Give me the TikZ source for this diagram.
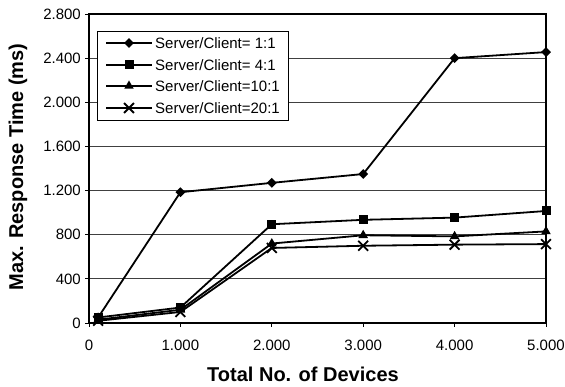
\documentclass[tikz,border=0pt]{standalone}
\usepackage{fontspec}
\setmainfont{Liberation Sans}
\usetikzlibrary{shapes.geometric,shapes.misc}
\begin{document}
\begin{tikzpicture}[x=1pt,y=-1pt,
  tick/.style={font=\fontsize{15}{18}\selectfont, inner sep=0pt},
  axtitle/.style={font=\fontsize{20}{24}\selectfont\bfseries, inner sep=0pt},
  grid line/.style={line width=0.8pt, black!75},
  series line/.style={line width=1.8pt, black, line join=round},
  mkdia/.style={diamond, fill=black, inner sep=0pt, minimum size=10pt},
  mksq/.style={rectangle, fill=black, inner sep=0pt, minimum size=9pt},
  mktri/.style={regular polygon, regular polygon sides=3, fill=black, inner sep=0pt, minimum size=11pt},
  mkx/.style={cross out, draw=black, line width=1.8pt, inner sep=0pt, minimum size=8pt},
  legtext/.style={font=\fontsize{15}{18}\selectfont, anchor=west, inner sep=0pt}]
\useasboundingbox (0,0) rectangle (565,387);
% grid
\foreach \g in {400,800,1200,1600,2000,2400}
  \draw[grid line] (89,{323-\g*0.110357}) -- (546,{323-\g*0.110357});
% ticks
\foreach \g in {0,400,800,1200,1600,2000,2400,2800}
  \draw[line width=0.8pt] (85,{323-\g*0.110357}) -- (89,{323-\g*0.110357});
\foreach \g in {0,1000,2000,3000,4000,5000}
  \draw[line width=0.8pt] ({89+\g*0.0914},323) -- ({89+\g*0.0914},327);
% frame
\draw[line width=2pt] (89,14) rectangle (546,323);
% y tick labels
\foreach \g/\t in {0/0,400/400,800/800,1200/1.200,1600/1.600,2000/2.000,2400/2.400,2800/2.800}
  \node[tick, anchor=east] (yl\g) at (81,{323-\g*0.110357}) {\t};
% x tick labels
\foreach \g/\t in {0/0,1000/1.000,2000/2.000,3000/3.000,4000/4.000,5000/5.000}
  \node[tick] (xl\g) at ({89+\g*0.0914},345) {\t};
% axis titles
\node[axtitle] (xt) at (303,374) {Total No. of Devices};
\node[axtitle, rotate=90] (yt) at (18,167) {Max. Response Time (ms)};
% series data
\foreach \s/\vals in {a/{50,1185,1270,1350,2400,2455},b/{50,140,895,935,955,1015},c/{30,120,720,795,785,830},d/{20,100,680,700,710,715}}{
  \foreach \v [count=\i] in \vals {
    \pgfmathsetmacro\xx{ifthenelse(\i==1,100,(\i-1)*1000)}
    \coordinate (\s\i) at ({89+\xx*0.0914},{323-\v*0.110357});
  }
}
\foreach \s in {d,c,b,a}
  \draw[series line] (\s1) -- (\s2) -- (\s3) -- (\s4) -- (\s5) -- (\s6);
\foreach \i in {1,...,6}{
  \node[mkx] (md\i) at (d\i) {};
  \node[mktri] (mc\i) at (c\i) {};
  \node[mksq] (mb\i) at (b\i) {};
  \node[mkdia] (ma\i) at (a\i) {};
}
% legend
\draw[line width=1pt, fill=white] (97,32) rectangle (288,121);
\foreach \s/\y/\m/\t in {a/43/mkdia/{Server/Client= 1:1},b/65/mksq/{Server/Client= 4:1},c/86/mktri/{Server/Client=10:1},d/108/mkx/{Server/Client=20:1}}{
  \coordinate (l\s1) at (106,\y);
  \coordinate (l\s2) at (152,\y);
  \draw[series line] (l\s1) -- (l\s2);
  \node[\m] (lm\s) at (129,\y) {};
  \node[legtext] (lt\s) at (155,\y) {\t};
}
\end{tikzpicture}
\end{document}
